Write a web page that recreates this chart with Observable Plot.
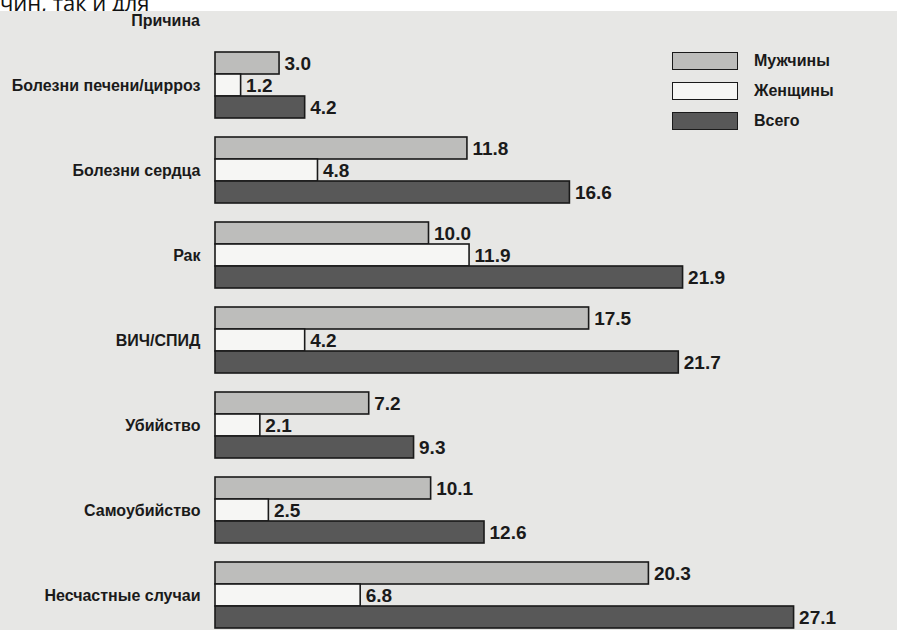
<!DOCTYPE html>
<html>
<head>
<meta charset="utf-8">
<script src="https://cdn.jsdelivr.net/npm/d3@7"></script>
<script src="https://cdn.jsdelivr.net/npm/@observablehq/plot@0.6"></script>
<style>
  html, body { margin: 0; padding: 0; background: #ffffff; }
  #wrap { position: relative; width: 897px; height: 630px; overflow: hidden; background: #e7e7e5; }
  #frag { position: absolute; left: 0; top: 0; width: 897px; height: 11px; overflow: hidden; background: #ffffff; z-index: 3; }
  #frag span { position: absolute; left: 0; top: -13.5px; font-family: "Open Sans", "DejaVu Sans", sans-serif; font-size: 22px; color: #111; white-space: nowrap; }
  #head { position: absolute; left: 0; width: 200px; top: 13px; text-align: right; font-family: "Liberation Sans", Arial, sans-serif; font-weight: bold; font-size: 16px; line-height: 16px; color: #1a1a1a; z-index: 2; }
  #legend { position: absolute; left: 672px; top: 46px; z-index: 2; font-family: "Liberation Sans", Arial, sans-serif; font-size: 16px; font-weight: 600; color: #1a1a1a; }
  .row { display: flex; align-items: center; height: 30px; }
  .sw { width: 64px; height: 16px; border: 1.5px solid #1a1a1a; margin-right: 16px; }
  #chart { position: absolute; left: 0; top: 0; }
  #chart g[aria-label="fy-axis tick label"] text { font-weight: 600; }
</style>
</head>
<body>
<div id="wrap">
  <div id="frag"><span>чин, так и для</span></div>
  <div id="head">Причина</div>
  <div id="legend"></div>
  <div id="chart"></div>
</div>
<script>
const causes = ["Болезни печени/цирроз", "Болезни сердца", "Рак", "ВИЧ/СПИД", "Убийство", "Самоубийство", "Несчастные случаи"];
const series = ["Мужчины", "Женщины", "Всего"];
const men   = [3.0, 11.8, 10.0, 17.5, 7.2, 10.1, 20.3];
const women = [1.2, 4.8, 11.9, 4.2, 2.1, 2.5, 6.8];
const total = [4.2, 16.6, 21.9, 21.7, 9.3, 12.6, 27.1];
const colors = ["#bdbdbb", "#f6f6f4", "#585858"];

const values = [men, women, total];
const data = [];
causes.forEach((c, i) => series.forEach((s, j) => data.push({cause: c, series: s, value: values[j][i]})));

const legend = document.getElementById("legend");
series.forEach((s, j) => {
  const row = document.createElement("div");
  row.className = "row";
  const sw = document.createElement("div");
  sw.className = "sw";
  sw.style.background = colors[j];
  const lab = document.createElement("span");
  lab.textContent = s;
  row.appendChild(sw); row.appendChild(lab);
  legend.appendChild(row);
});

const chart = Plot.plot({
  width: 897,
  height: 640,
  marginTop: 40,
  marginBottom: 1,
  marginLeft: 215,
  marginRight: 41.5,
  style: {background: "transparent", fontFamily: "'Liberation Sans', Arial, sans-serif", fontSize: "16px", color: "#1a1a1a"},
  x: {domain: [0, 30], axis: null},
  y: {domain: series, axis: null, padding: 0},
  fy: {domain: causes, paddingInner: 0.228, paddingOuter: 0.114, axis: "left", tickSize: 0, tickPadding: 15, label: null},
  color: {domain: series, range: colors},
  marks: [
    Plot.barX(data, {x: "value", y: "series", fy: "cause", fill: "series", stroke: "#1a1a1a", strokeWidth: 1.6}),
    Plot.text(data, {x: "value", y: "series", fy: "cause", text: d => d.value.toFixed(1), textAnchor: "start", dx: 5, fontSize: 19, fontWeight: "bold", fill: "#1a1a1a"})
  ]
});
document.getElementById("chart").appendChild(chart);
</script>
</body>
</html>
